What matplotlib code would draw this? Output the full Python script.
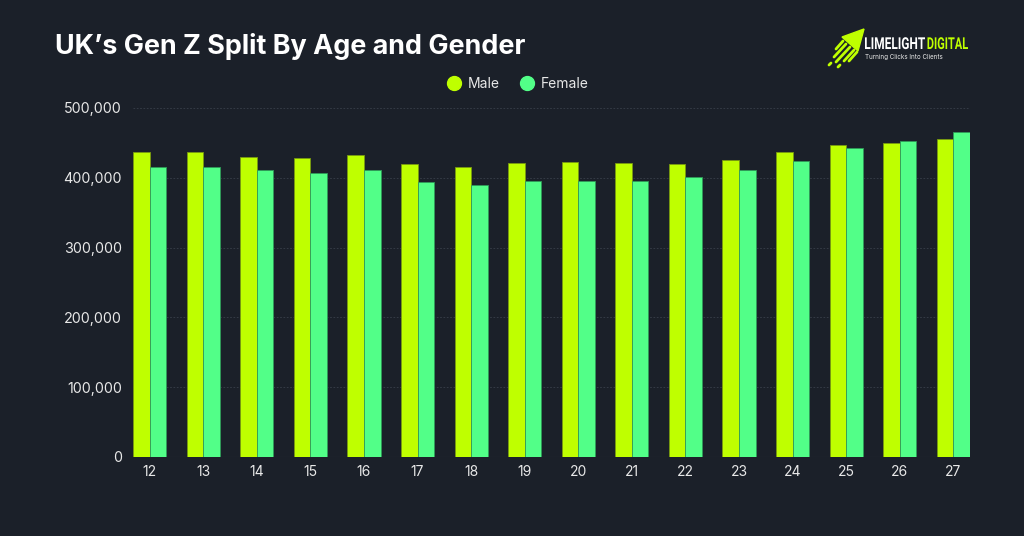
import matplotlib
matplotlib.use("Agg")
import matplotlib.pyplot as plt
from matplotlib.lines import Line2D
from matplotlib.textpath import TextPath
from matplotlib.patches import PathPatch
from matplotlib.font_manager import FontProperties
from matplotlib.transforms import Affine2D
import numpy as np

ages = ["12", "13", "14", "15", "16", "17", "18", "19", "20", "21", "22", "23", "24", "25", "26", "27"]
male = [436500, 437400, 430200, 428800, 432700, 420200, 415000, 420700, 422200, 421200, 419300, 425000, 437000, 447400, 449400, 456000]
female = [415900, 415000, 411200, 407300, 411200, 394400, 389300, 395400, 395900, 395000, 401600, 411600, 424500, 442200, 453200, 465200]
yticks = [0, 100000, 200000, 300000, 400000, 500000]

BG = "#1b2029"
MALE_C = "#bfff00"
FEMALE_C = "#52ff88"
TXT = "#e8e8e8"

plt.rcParams["font.family"] = ["Inter", "DejaVu Sans"]

fig = plt.figure(figsize=(10.24, 5.36), dpi=100, facecolor=BG)
ax = fig.add_axes([133/1024, 1-457/536, (970-133)/1024, (457-108)/536])
ax.set_facecolor(BG)

x = np.arange(len(ages))
w = 0.31
ax.bar(x - w/2, male, width=w, color=MALE_C, edgecolor="#7a9a10", linewidth=0.6, zorder=3)
ax.bar(x + w/2, female, width=w, color=FEMALE_C, edgecolor="#2f9a58", linewidth=0.6, zorder=3)

ax.set_xlim(-w, len(ages) - 1 + w)
ax.set_ylim(0, 500000)
ax.set_yticks(yticks)
ax.set_yticklabels([f"{v:,}" for v in yticks])
ax.set_xticks(x)
ax.set_xticklabels(ages)
ax.tick_params(axis="both", length=0, colors=TXT, labelsize=10)
ax.tick_params(axis="y", pad=8, labelsize=10.3)
ax.tick_params(axis="x", pad=6)
for s in ax.spines.values():
    s.set_visible(False)
ax.grid(axis="y", color="#3a404b", linestyle=(0, (2, 2)), linewidth=0.6, zorder=0)
ax.axhline(0, color="#3a404b", linewidth=0.8, zorder=1)

# title
fig.text(55/1024, 1-47/536, "UK\u2019s Gen Z Split By Age and Gender", color="white",
         fontsize=19.4, fontweight="bold", va="center", ha="left")

# legend
handles = [Line2D([0], [0], marker="o", linestyle="", markersize=10, markerfacecolor=MALE_C, markeredgecolor=MALE_C),
           Line2D([0], [0], marker="o", linestyle="", markersize=10, markerfacecolor=FEMALE_C, markeredgecolor=FEMALE_C)]
leg = fig.legend(handles, ["Male", "Female"], loc="center", bbox_to_anchor=(518/1024, 1-84/536),
                 ncol=2, frameon=False, fontsize=10, labelcolor=TXT, handletextpad=0.45,
                 columnspacing=1.5, handlelength=1.0)

# logo (drawn in pixel coordinates)
lax = fig.add_axes([0, 0, 1, 1], zorder=5)
lax.set_xlim(0, 1024)
lax.set_ylim(536, 0)
lax.axis("off")
lax.patch.set_alpha(0)
lax.fill([864, 842, 858], [29, 37, 51], color=MALE_C, zorder=6)
streaks = [
    [(846, 44), (834, 57)],
    [(850, 47), (836, 62)],
    [(854, 50), (844, 61)],
    [(843, 41), (836, 49)],
    [(857, 52), (849, 61)],
]
for (x0, y0), (x1, y1) in streaks:
    lax.plot([x0, x1], [y0, y1], color=MALE_C, linewidth=2.0, solid_capstyle="round", zorder=6)
lax.plot([831, 829], [63, 65], color=MALE_C, linewidth=2.0, solid_capstyle="round")
lax.plot([840, 838], [65, 67], color=MALE_C, linewidth=2.0, solid_capstyle="round")

fp = FontProperties(family="Roboto", weight="bold")


def condensed(s, x0, x1, baseline, cap, color):
    tp = TextPath((0, 0), s, size=10, prop=fp)
    ext = tp.get_extents()
    sx = (x1 - x0) / ext.width
    sy = cap / ext.height
    tr = Affine2D().translate(-ext.x0, 0).scale(sx, -sy).translate(x0, baseline)
    lax.add_patch(PathPatch(tr.transform_path(tp), facecolor=color, edgecolor="none", zorder=6))


condensed("LIMELIGHT", 865, 925, 49, 12, "white")
condensed("DIGITAL", 927.5, 968, 49, 12, MALE_C)
lax.text(865, 57, "Turning Clicks Into Clients", color=TXT, fontsize=4.5,
         ha="left", va="center")

fig.savefig("out.png", dpi=100, facecolor=BG)
